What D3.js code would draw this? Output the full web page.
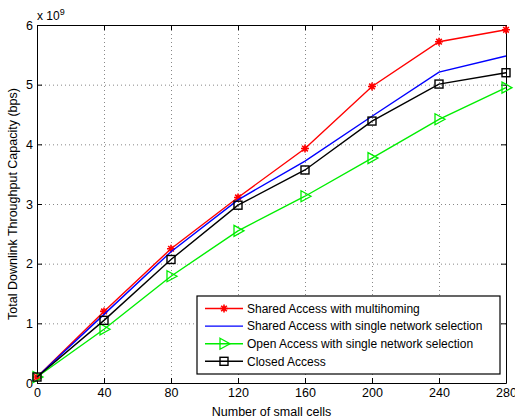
<!DOCTYPE html>
<html>
<head>
<meta charset="utf-8">
<script src="https://cdn.jsdelivr.net/npm/d3@7"></script>
<style>
  body { margin: 0; background: #fff; }
  svg { display: block; font-family: "Liberation Sans", Arial, sans-serif; }
  .grid line { stroke: #888; stroke-dasharray: 1 3; }
  .grid path { display: none; }
  .axis text { font-size: 12.5px; fill: #000; }
  .axis path, .axis line { stroke: #000; }
  .line { fill: none; stroke-width: 1.4; }
</style>
</head>
<body>
<div id="chart"></div>
<script>
// Throughput vs number of small cells, 4 access schemes
const width = 515;
const height = 419;
const margin = { top: 25, right: 9, bottom: 36, left: 37 };

const cells = [0, 40, 80, 120, 160, 200, 240, 280];
const sharedMulti = [0.1, 1.2, 2.25, 3.11, 3.93, 4.97, 5.72, 5.92];
const sharedSingle = [0.1, 1.15, 2.2, 3.07, 3.72, 4.47, 5.21, 5.48];
const openSingle = [0.1, 0.9, 1.79, 2.55, 3.13, 3.77, 4.42, 4.95];
const closedAccess = [0.1, 1.05, 2.07, 2.98, 3.57, 4.39, 5.01, 5.2];
const xTicks = [0, 40, 80, 120, 160, 200, 240, 280];
const yTicks = [0, 1, 2, 3, 4, 5, 6];

const series = [
  { name: "Shared Access with multihoming", values: sharedMulti, color: "#ff0000", marker: "star" },
  { name: "Shared Access with single network selection", values: sharedSingle, color: "#0000ff", marker: "none" },
  { name: "Open Access with single network selection", values: openSingle, color: "#00ee00", marker: "tri" },
  { name: "Closed Access", values: closedAccess, color: "#000000", marker: "square" }
];

const chartWidth = width - margin.left - margin.right;
const chartHeight = height - margin.top - margin.bottom;

const svg = d3.select("#chart")
  .append("svg")
  .attr("width", width)
  .attr("height", height);

const chart = svg.append("g")
  .attr("transform", `translate(${margin.left}, ${margin.top})`);

const xScale = d3.scaleLinear().domain([0, 280]).range([0, chartWidth]);
const yScale = d3.scaleLinear().domain([0, 6]).range([chartHeight, 0]);

chart.append("g")
  .attr("class", "grid")
  .call(d3.axisLeft(yScale).tickValues(yTicks).tickSize(-chartWidth).tickFormat(""));
chart.append("g")
  .attr("class", "grid")
  .attr("transform", `translate(0, ${chartHeight})`)
  .call(d3.axisBottom(xScale).tickValues(xTicks).tickSize(-chartHeight).tickFormat(""));

// box with inward ticks on all four sides
chart.append("g")
  .attr("class", "axis")
  .attr("transform", `translate(0, ${chartHeight})`)
  .call(d3.axisBottom(xScale).tickValues(xTicks).tickSizeInner(-5).tickSizeOuter(0).tickPadding(5));
chart.append("g")
  .attr("class", "axis")
  .call(d3.axisLeft(yScale).tickValues(yTicks).tickFormat(d3.format("d")).tickSizeInner(-5).tickSizeOuter(0).tickPadding(4));
chart.append("g")
  .attr("class", "axis")
  .call(d3.axisTop(xScale).tickValues(xTicks).tickSizeInner(-5).tickSizeOuter(0).tickFormat(""));
chart.append("g")
  .attr("class", "axis")
  .attr("transform", `translate(${chartWidth}, 0)`)
  .call(d3.axisRight(yScale).tickValues(yTicks).tickSizeInner(-5).tickSizeOuter(0).tickFormat(""));

const lineGenerator = d3.line()
  .x(d => xScale(d.x))
  .y(d => yScale(d.y));

function drawMarker(g, type, color) {
  if (type === "star") {
    const s = 4;
    g.append("path")
      .attr("d", `M${-s},0H${s}M0,${-s}V${s}M${-s * 0.7},${-s * 0.7}L${s * 0.7},${s * 0.7}M${-s * 0.7},${s * 0.7}L${s * 0.7},${-s * 0.7}`)
      .attr("stroke", color).attr("stroke-width", 1.6).attr("fill", "none");
  } else if (type === "tri") {
    g.append("path")
      .attr("d", "M-4,-5.5L6,0L-4,5.5Z")
      .attr("stroke", color).attr("stroke-width", 1.3).attr("fill", "none");
  } else if (type === "square") {
    g.append("rect")
      .attr("x", -4).attr("y", -4).attr("width", 8).attr("height", 8)
      .attr("stroke", color).attr("stroke-width", 1.4).attr("fill", "none");
  }
}

series.forEach(s => {
  const pts = cells.map((c, i) => ({ x: c, y: s.values[i] }));
  chart.append("path")
    .datum(pts)
    .attr("class", "line")
    .attr("stroke", s.color)
    .attr("d", lineGenerator);
  pts.forEach(p => {
    const g = chart.append("g").attr("transform", `translate(${xScale(p.x)}, ${yScale(p.y)})`);
    drawMarker(g, s.marker, s.color);
  });
});

// legend
const legend = svg.append("g").attr("transform", "translate(197, 296)");
legend.append("rect")
  .attr("width", 303).attr("height", 78)
  .attr("fill", "#fff").attr("stroke", "#000").attr("stroke-width", 1.2);
series.forEach((s, i) => {
  const y = 12.5 + i * 17.6;
  legend.append("line")
    .attr("x1", 8).attr("x2", 46).attr("y1", y).attr("y2", y)
    .attr("stroke", s.color).attr("stroke-width", 1.4);
  const g = legend.append("g").attr("transform", `translate(27, ${y})`);
  drawMarker(g, s.marker, s.color);
  legend.append("text")
    .attr("x", 50).attr("y", y + 4.3)
    .attr("font-size", 12)
    .text(s.name);
});

// exponent label
const expo = svg.append("text")
  .attr("x", margin.left)
  .attr("y", 20)
  .attr("font-size", 12);
expo.append("tspan").text("x 10");
expo.append("tspan").attr("dy", -5).attr("font-size", 9).text("9");

svg.append("text")
  .attr("x", margin.left + chartWidth / 2)
  .attr("y", height - 3)
  .attr("text-anchor", "middle")
  .attr("font-size", 12.5)
  .text("Number of small cells");

svg.append("text")
  .attr("transform", "rotate(-90)")
  .attr("x", -(margin.top + chartHeight / 2))
  .attr("y", 17)
  .attr("text-anchor", "middle")
  .attr("font-size", 12.5)
  .text("Total Downlink Throughput Capacity (bps)");
</script>
</body>
</html>
